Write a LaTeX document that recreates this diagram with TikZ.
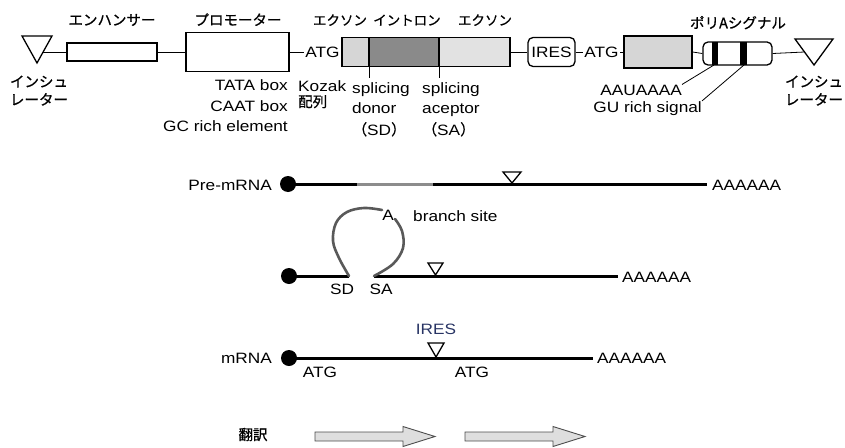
\documentclass[tikz,border=0pt]{standalone}
\usepackage{fontspec}
\setmainfont{Liberation Sans}[FakeStretch=1.15]
\newfontfamily\jp{Noto Sans CJK JP}[FakeBold=0.7]
\usetikzlibrary{calc}
\definecolor{navy}{RGB}{40,52,100}
\definecolor{exlight}{RGB}{214,214,214}
\definecolor{exlight2}{RGB}{226,226,226}
\definecolor{intgray}{RGB}{138,138,138}
\begin{document}
\begin{tikzpicture}[x=1pt,y=-1pt,
  lat/.style={font=\fontsize{15}{17}\selectfont, inner sep=0pt},
  jpl/.style={font=\fontsize{14.5}{17}\jp\selectfont, inner sep=0pt},
  jps/.style={font=\fontsize{13.5}{17}\jp\selectfont, inner sep=0pt},
  box/.style={draw, line width=1.3pt, inner sep=0pt},
  conn/.style={line width=0.8pt},
  rna/.style={line width=3pt},
  cutmark/.style={draw, fill=white, line width=1.3pt, line join=miter},
  dotn/.style={circle, fill=black, minimum size=16pt, inner sep=0pt},
  loopst/.style={line width=2.6pt, draw=black!65, line cap=round, line join=round},
  transl/.style={draw=black!70, fill=black!13, line width=0.9pt, line join=miter}
]
\useasboundingbox (0,0) rectangle (845,447);

% ---------- top construct ----------
\draw[line width=1.3pt, line join=miter] (22,36) -- (52,36) -- (37,63) -- cycle;
\coordinate (insL) at (43,52);
\node[box, minimum width=90pt, minimum height=18pt] (enh) at (112,52) {};
\node[box, minimum width=103pt, minimum height=39pt] (prom) at (237.5,52) {};
\node[lat, inner sep=1.5pt] (atg1) at (322.5,52) {ATG};
\node[box, fill=exlight, minimum width=27pt, minimum height=29pt] (e1) at (355.5,52) {};
\node[box, fill=intgray, minimum width=70pt, minimum height=29pt] (in1) at (404,52) {};
\node[box, fill=exlight2, minimum width=71pt, minimum height=29pt] (e2) at (474.5,52) {};
\node[box, rounded corners=5pt, minimum width=47pt, minimum height=29pt, lat] (ires) at (551.5,52) {IRES};
\node[lat, inner sep=1.5pt] (atg2) at (601.5,52) {ATG};
\node[box, fill=exlight, minimum width=68pt, minimum height=32pt] (e3) at (658,52) {};
\fill (712,42) rectangle (718,65);
\fill (740,42) rectangle (747,65);
\node[box, rounded corners=5pt, minimum width=69pt, minimum height=23pt] (pa) at (737.5,53.5) {};
\draw[line width=1.3pt, line join=miter] (795,39) -- (833,39) -- (814,65) -- cycle;
\coordinate (insR) at (804.5,52);

\draw[conn] (insL) -- (enh.west);
\draw[conn] (enh.east) -- (prom.west);
\draw[conn] (prom.east) -- (atg1.west);
\draw[conn] (e2.east) -- (ires.west);
\draw[conn] (ires.east) -- (atg2.west);
\draw[conn] (atg2.east) -- (e3.west);
\draw[conn] (e3.east) -- (pa.west);
\draw[conn] (pa.east) -- (insR);

% splice leaders
\draw[conn] (e1.south east) -- ++(0,11);
\draw[conn] (in1.south east) -- ++(0,11);
% polyA leaders
\coordinate (b1) at (714,65);
\coordinate (b2) at (744,65);
\node[lat, anchor=base east] (aau) at (682,95) {AAUAAAA};
\node[lat, anchor=base east] (gur) at (702,112) {GU rich signal};
\draw[conn] (aau.north east) -- (b1);
\draw[conn] (gur.north east) -- (b2);

% top labels
\node[jpl, anchor=base] (lenh) at (112,25.3) {エンハンサー};
\node[jpl, anchor=base] (lprom) at (238,25.3) {プロモーター};
\node[jps, anchor=base] (lex1) at (340,25.3) {エクソン};
\node[jps, anchor=base] (lint) at (407,25.3) {イントロン};
\node[jps, anchor=base] (lex2) at (485,25.3) {エクソン};
\node[jpl, anchor=base] (lpa) at (738,28.3) {ポリAシグナル};
\node[jpl, anchor=base] (linsL1) at (39,87) {インシュ};
\node[jpl, anchor=base] (linsL2) at (39,105) {レーター};
\node[jpl, anchor=base] (linsR1) at (814,87) {インシュ};
\node[jpl, anchor=base] (linsR2) at (814,105) {レーター};

\node[lat, anchor=base east] (tata) at (288,90) {TATA box};
\node[lat, anchor=base east] (caat) at (288,111) {CAAT box};
\node[lat, anchor=base east] (gcr) at (288,131) {GC rich element};
\node[lat, anchor=base west] (koz) at (298,91) {Kozak};
\node[jpl, anchor=base west] (koz2) at (298,107) {配列};

\node[lat, anchor=base west] (sd1) at (352,93) {splicing};
\node[lat, anchor=base west] (sd2) at (352,113) {donor};
\node[lat, anchor=base west] (sd3) at (352,135) {{\jp （}SD{\jp ）}};
\node[lat, anchor=base west] (sa1) at (422,93) {splicing};
\node[lat, anchor=base west] (sa2) at (422,113) {aceptor};
\node[lat, anchor=base west] (sa3) at (422,135) {{\jp （}SA{\jp ）}};

% ---------- Pre-mRNA ----------
\node[lat, anchor=base east] (lpre) at (272,190) {Pre-mRNA};
\node[dotn] (d1) at (288,184) {};
\node[lat, anchor=base west] (pa1) at (712,190) {AAAAAA};
\coordinate (end1) at (707,184);
\draw[rna] (d1.center) -- (end1);
\draw[line width=3pt, draw=black!45] (357,184) -- (433,184);
\draw[cutmark] (503,172) -- (521,172) -- (512,183) -- cycle;

% ---------- lariat ----------
\node[dotn] (d2) at (289,276) {};
\coordinate (sd) at (349,276);
\coordinate (sa) at (374,276);
\coordinate (end2) at (618,276);
\node[lat, anchor=base west] (pa2) at (622,282) {AAAAAA};
\draw[rna] (d2.center) -- (sd);
\draw[rna] (sa) -- (end2);
\node[lat, anchor=base] (bra) at (388,220) {A};
\node[lat, anchor=base west] (brs) at (413,221) {branch site};
\draw[loopst] plot[smooth, tension=0.6] coordinates {(sd) (339,258) (333,241) (336,223) (347,212) (364,208) (382,210)};
\draw[loopst] plot[smooth, tension=0.6] coordinates {(395,219) (402,231) (403,248) (393,264) (sa)};
\node[lat, anchor=base] (lsd) at (342,294) {SD};
\node[lat, anchor=base] (lsa) at (381,294) {SA};
\draw[cutmark] (428,263) -- (443,263) -- (435.5,275) -- cycle;

% ---------- mRNA ----------
\node[lat, anchor=base east] (lm) at (272,363) {mRNA};
\node[dotn] (d3) at (289,358) {};
\coordinate (end3) at (593,358);
\node[lat, anchor=base west] (pa3) at (597,363) {AAAAAA};
\draw[rna] (d3.center) -- (end3);
\draw[cutmark] (428,343) -- (444,343) -- (436,357) -- cycle;
\node[lat, anchor=base, text=navy] (lires) at (436,334) {IRES};
\node[lat, anchor=base] (atg3) at (320,377) {ATG};
\node[lat, anchor=base] (atg4) at (472,377) {ATG};

% ---------- translation ----------
\node[jpl, anchor=base] (lhon) at (253,440) {翻訳};
\draw[transl] (315,432) -- (403,432) -- (403,426.5) -- (435,436.5) -- (403,446.5) -- (403,441) -- (315,441) -- cycle;
\draw[transl] (465,432) -- (553,432) -- (553,426.5) -- (585,436.5) -- (553,446.5) -- (553,441) -- (465,441) -- cycle;
\end{tikzpicture}
\end{document}
